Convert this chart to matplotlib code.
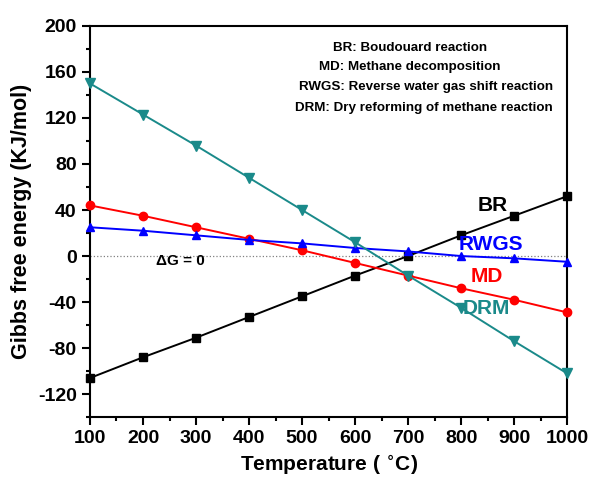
import matplotlib
matplotlib.use("Agg")
import matplotlib.pyplot as plt
from matplotlib.ticker import MultipleLocator

plt.rcParams['font.family'] = ['Liberation Sans', 'DejaVu Sans']
plt.rcParams['font.weight'] = 'bold'
plt.rcParams['axes.unicode_minus'] = False

# temperatura (C) e energia livre de Gibbs (kJ/mol)
temp = [100, 200, 300, 400, 500, 600, 700, 800, 900, 1000]
br = [-106, -88, -71, -53, -35, -17, 0, 18, 35, 52]
md = [44, 35, 25, 15, 5, -6, -17, -28, -38, -49]
rwgs = [25, 22, 18, 14, 11, 7, 4, 0, -2, -5]
drm = [150, 123, 96, 68, 40, 12, -17, -45, -74, -102]

fig = plt.figure(figsize=(5.92, 4.8), dpi=100)
ax = fig.add_axes([0.152, 0.131, 0.806, 0.815])

ax.axhline(0, color='gray', ls=':', lw=0.9, zorder=1)
ax.plot(temp, br, color='black', marker='s', ms=5.5, lw=1.4, clip_on=False, zorder=3)
ax.plot(temp, md, color='red', marker='o', ms=6, lw=1.4, clip_on=False, zorder=3)
ax.plot(temp, rwgs, color='blue', marker='^', ms=6, lw=1.4, clip_on=False, zorder=3)
ax.plot(temp, drm, color='#1a8a8a', marker='v', ms=6.5, lw=1.4, clip_on=False, zorder=3)

ax.text(860, 44, 'BR', color='black', fontsize=15, fontweight='bold', ha='center', va='center')
ax.text(856, 10, 'RWGS', color='blue', fontsize=15, fontweight='bold', ha='center', va='center')
ax.text(849, -18, 'MD', color='red', fontsize=15, fontweight='bold', ha='center', va='center')
ax.text(847, -46, 'DRM', color='#1a8a8a', fontsize=15, fontweight='bold', ha='center', va='center')
ax.text(270, -4, 'ΔG = 0', color='black', fontsize=11, fontweight='bold', ha='center', va='center')

legenda = ['BR: Boudouard reaction',
           'MD: Methane decomposition',
           'RWGS: Reverse water gas shift reaction',
           'DRM: Dry reforming of methane reaction']
leg_x = [704, 704, 734, 730]
leg_y = [181, 164, 146.5, 129]
for s, lx, ly in zip(legenda, leg_x, leg_y):
    ax.text(lx, ly, s, fontsize=9.6, fontweight='bold', ha='center', va='center')

ax.set_xlim(100, 1000)
ax.set_ylim(-140, 200)
ax.xaxis.set_major_locator(MultipleLocator(100))
ax.xaxis.set_minor_locator(MultipleLocator(50))
ax.yaxis.set_major_locator(MultipleLocator(40))
ax.yaxis.set_minor_locator(MultipleLocator(20))
ax.tick_params(which='major', direction='out', length=6, width=1.5, labelsize=14)
ax.tick_params(which='minor', direction='out', length=3, width=1.5)
for lab in ax.get_xticklabels() + ax.get_yticklabels():
    lab.set_fontweight('bold')
for sp in ax.spines.values():
    sp.set_linewidth(1.5)

ax.set_xlabel('Temperature ( $^{\\circ}$C)', fontsize=15, fontweight='bold')
ax.set_ylabel('Gibbs free energy (KJ/mol)', fontsize=15.5, fontweight='bold')

fig.savefig('out.png', dpi=100)
